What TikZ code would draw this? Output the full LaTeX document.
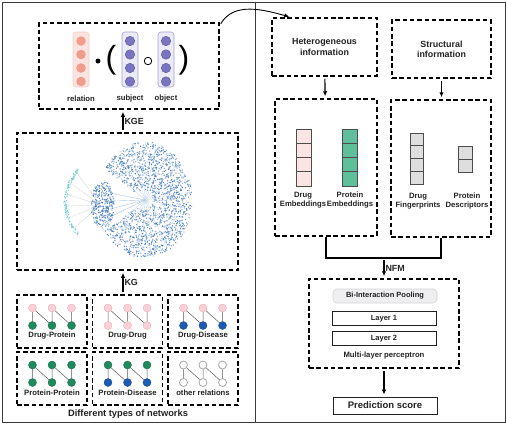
\documentclass[tikz,border=0pt]{standalone}
\usepackage{fontspec}
\setmainfont{Liberation Sans}
\usetikzlibrary{positioning, calc, shapes.geometric, arrows.meta}
\definecolor{txt}{HTML}{222222}
\definecolor{frame}{HTML}{3A3A3A}
\definecolor{salmon}{HTML}{F09C8C}
\definecolor{salmonbg}{HTML}{FBE4E0}
\definecolor{violet}{HTML}{7B74C2}
\definecolor{violetbg}{HTML}{ECEAF6}
\definecolor{drugpink}{HTML}{F6D2D8}
\definecolor{protgreen}{HTML}{1F8A5E}
\definecolor{disblue}{HTML}{1E5CB3}
\definecolor{netblue}{HTML}{2F6DB8}
\definecolor{netcyan}{HTML}{4EBFC6}
\definecolor{embpink}{HTML}{FBE4E4}
\definecolor{embteal}{HTML}{5FBF9C}
\definecolor{fpgray}{HTML}{DEDEDE}
\tikzstyle{Arrow} = [
%arrow style used for every connector
line width=1.1pt,
-{Latex[length=5pt, width=4.5pt]},
shorten >= 2pt, shorten <= 2pt
]

\begin{document}
\begin{tikzpicture}[x=1pt, y=-1pt,
				dbox/.style = {rectangle, draw, line width=1.5pt, dash pattern=on 4.5pt off 2.8pt},
				col/.style = {rectangle, rounded corners=3pt, line width=0.6pt, minimum width=16pt, minimum height=55pt},
				ball/.style = {circle, inner sep=0pt, minimum size=9.5pt},
				drugnode/.style = {circle, inner sep=0pt, minimum size=8pt, fill=drugpink, draw=drugpink!80!red},
				protnode/.style = {circle, inner sep=0pt, minimum size=8pt, fill=protgreen, draw=protgreen!80!black},
				disnode/.style = {circle, inner sep=0pt, minimum size=8pt, fill=disblue, draw=disblue!80!black},
				othnode/.style = {circle, inner sep=0pt, minimum size=8pt, fill=white, draw=gray!70, line width=0.8pt},
				edge/.style = {draw=gray!70!black, line width=0.5pt},
				lbl/.style = {text=txt, font=\bfseries\fontsize{7.7}{8.8}\selectfont, align=center, inner sep=1pt},
				big/.style = {text=txt, font=\bfseries\fontsize{8.9}{10.2}\selectfont, align=center, inner sep=1pt},
				layer/.style = {rectangle, draw=txt, line width=0.8pt, minimum width=104pt, minimum height=13pt, text=txt, font=\bfseries\fontsize{7.5}{8.5}\selectfont},
			]
			\useasboundingbox (0,0) rectangle (507,424);
			\draw[frame, line width=0.8pt] (2,2) rectangle (505,422);
			\draw[frame, line width=0.8pt] (255,2) -- (255,422);

			% knowledge graph embedding
			\node[dbox, minimum width=180pt, minimum height=86pt](KGEbox) at (129,66){};
			\node[col, fill=salmonbg, draw=salmon!50](REL) at (81,59.5){};
			\node[col, fill=violetbg, draw=violet!70](SUB) at (130,59.5){};
			\node[col, fill=violetbg, draw=violet!70](OBJ) at (166,59.5){};
			\foreach \j/\y in {1/41, 2/54.5, 3/68, 4/81.5}{
				\node[ball, fill=salmon](R\j) at (81,\y){};
				\node[ball, fill=violet, draw=violet!70!black, line width=0.4pt](S\j) at (130,\y){};
				\node[ball, fill=violet, draw=violet!70!black, line width=0.4pt](O\j) at (166,\y){};
			}
			\node[lbl](RL) at (81,99){relation};
			\node[lbl](SL) at (130,99){subject};
			\node[lbl](OL) at (166,99){object};
			\node[circle, fill=black, inner sep=0pt, minimum size=5pt](DOT) at (98,61){};
			\node[circle, draw=black, fill=white, line width=0.8pt, inner sep=0pt, minimum size=7.5pt](CIRC) at (148,61){};
			\node[text=black, font=\fontsize{32}{32}\selectfont, inner sep=0pt](LP) at (111,60){(};
			\node[text=black, font=\fontsize{32}{32}\selectfont, inner sep=0pt](RP) at (184,60){)};

			% knowledge graph
			\node[dbox, minimum width=221pt, minimum height=137pt](NETbox) at (127.5,201.5){};
			\pgfmathsetseed{11}
			\foreach \a in {215,232,...,505}
				\draw[netblue!30, line width=0.3pt] (145,200) -- ({145+44*cos(\a)},{200-55*sin(\a)});
			\foreach \i in {1,...,1500}{
				\pgfmathsetmacro\ang{212+296*rnd}
				\pgfmathsetmacro\rad{sqrt(0.03+0.97*rnd)}
				\pgfmathtruncatemacro\tone{45+55*rnd}
				\fill[netblue!\tone!white] ({145+47*\rad*cos(\ang)},{200-58*\rad*sin(\ang)}) circle (0.7pt);
			}
			\foreach \dy in {-12,-4,4,12}
				\draw[netblue!40, line width=0.4pt] (145,200) -- (110,205+\dy);
			\foreach \a in {140,155,...,220}
				\draw[gray!35, line width=0.3pt] (100,205) -- ({112+46*cos(\a)},{202-46*sin(\a)});
			\foreach \i in {1,...,300}{
				\pgfmathsetmacro\ang{360*rnd}
				\pgfmathsetmacro\rad{sqrt(rnd)}
				\pgfmathtruncatemacro\tone{55+45*rnd}
				\fill[netblue!\tone!white] ({103+12*\rad*cos(\ang)},{205-24*\rad*sin(\ang)}) circle (0.7pt);
			}
			\foreach \i in {1,...,100}{
				\pgfmathsetmacro\ang{136+88*rnd}
				\pgfmathsetmacro\rad{45+3*rnd}
				\pgfmathtruncatemacro\tone{50+50*rnd}
				\fill[netcyan!\tone!white] ({112+\rad*cos(\ang)},{202-\rad*sin(\ang)}) circle (0.75pt);
			}

			% different types of networks
			\foreach \cx/\cy/\ts/\bs/\lab [count=\k] in {52/321.5/drugnode/protnode/Drug-Protein, 127.5/321.5/drugnode/drugnode/Drug-Drug, 203/321.5/drugnode/disnode/Drug-Disease, 52/378.5/protnode/protnode/Protein-Protein, 127.5/378.5/protnode/disnode/Protein-Disease, 203/378.5/othnode/othnode/other relations}{
				\node[dbox, minimum width=70pt, minimum height=53pt](P\k) at (\cx,\cy){};
				\foreach \j/\dx in {1/-19.5, 2/0, 3/19.5}{
					\node[\ts](T\k\j) at (\cx+\dx,\cy-13.5){};
					\node[\bs](B\k\j) at (\cx+\dx,\cy+4){};
				}
				\draw[edge](T\k1)--(B\k1) (T\k1)--(B\k2) (T\k2)--(B\k2) (T\k2)--(B\k3) (T\k3)--(B\k3);
				\node[lbl](N\k) at (\cx,\cy+14.5){\lab};
			}
			\node[big, font=\bfseries\fontsize{9.3}{10.5}\selectfont](TYPES) at (128,414.5){Different types of networks};

			\draw[Arrow]($(NETbox.north)+(-4.5,0)$)--node[midway, right, big] {KGE}($(KGEbox.south)+(-6,0)$);
			\draw[Arrow]($(P2.north)+(-4.5,0)$)--node[midway, right, big] {KG}($(NETbox.south)+(-4.5,0)$);

			% features
			\node[dbox, minimum width=105pt, minimum height=58pt, big](HI) at (324.5,47){Heterogeneous\\information};
			\node[dbox, minimum width=99pt, minimum height=58pt, big](SI) at (441.5,49){Structural\\information};
			\node[dbox, minimum width=102pt, minimum height=137pt](EMB) at (326,167.5){};
			\node[dbox, minimum width=100pt, minimum height=137pt](FEAT) at (441,168.5){};
			\foreach \c in {0,...,3}{
				\draw[fill=embpink, draw=black!70, line width=0.8pt] (296,{129+14.25*\c}) rectangle ++(15,14.25);
				\draw[fill=embteal, draw=black!70, line width=0.8pt] (342,{129+14.25*\c}) rectangle ++(15,14.25);
				\draw[fill=fpgray, draw=black!70, line width=0.8pt] (410,{133+12.75*\c}) rectangle ++(13,12.75);
			}
			\foreach \c in {0,1}
				\draw[fill=fpgray, draw=black!70, line width=0.8pt] (458,{146+13*\c}) rectangle ++(14,13);
			\node[lbl](DE) at (303,200){Drug\\Embeddings};
			\node[lbl](PE) at (350,200){Protein\\Embeddings};
			\node[lbl](DF) at (418,201){Drug\\Fingerprints};
			\node[lbl](PD) at (467,201){Protein\\Descriptors};

			\draw[Arrow](HI)--(EMB);
			\draw[Arrow](SI.south)--(FEAT.north -| SI.south);
			\coordinate(J) at (384,258);
			\draw[line width=1.1pt](EMB.south) |- (J) -| (FEAT.south);

			% neural factorization machine
			\node[dbox, minimum width=150pt, minimum height=89pt](MLP) at (384,323.5){};
			\node[rectangle, rounded corners=4pt, fill=violetbg!60!gray!25, draw=gray!35, line width=0.6pt, minimum width=104pt, minimum height=14pt, text=txt, font=\bfseries\fontsize{7.5}{8.5}\selectfont](BIP) at (385,296){Bi-Interaction Pooling};
			\node[layer](L1) at (384,318.5){Layer 1};
			\node[layer](L2) at (384,338.5){Layer 2};
			\node[lbl](ML) at (384,356){Multi-layer perceptron};
			\node[rectangle, draw=txt, line width=0.9pt, minimum width=104pt, minimum height=17pt, text=txt, font=\bfseries\fontsize{9.5}{10}\selectfont](PS) at (385,405.5){Prediction score};

			\draw[Arrow](J)--node[midway, right, big] {NFM}(MLP.north);
			\draw[Arrow](MLP.south)--([xshift=-1pt]PS.north);
			\draw[Arrow, line width=0.9pt](KGEbox.24) to[out=60, in=165] ([xshift=20pt]HI.north west);
		\end{tikzpicture}
\end{document}
